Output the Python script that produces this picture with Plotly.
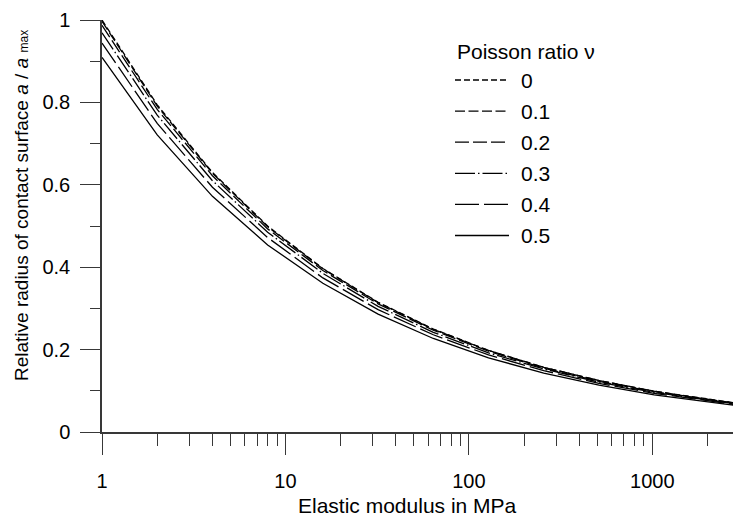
import plotly.graph_objects as go

# Data
modulus_mpa = [1, 2, 4, 8, 16, 32, 64, 128, 256, 512, 1024, 2048, 3000]
poisson_labels = ["0", "0.1", "0.2", "0.3", "0.4", "0.5"]
radius_nu0 = [1.000, 0.794, 0.630, 0.500, 0.397, 0.315, 0.250, 0.198, 0.157, 0.125, 0.099, 0.079, 0.069]
radius_nu01 = [0.997, 0.791, 0.628, 0.498, 0.396, 0.314, 0.249, 0.198, 0.157, 0.125, 0.099, 0.078, 0.069]
radius_nu02 = [0.987, 0.783, 0.622, 0.493, 0.392, 0.311, 0.247, 0.196, 0.155, 0.123, 0.098, 0.078, 0.068]
radius_nu03 = [0.969, 0.769, 0.610, 0.485, 0.385, 0.305, 0.242, 0.192, 0.153, 0.121, 0.096, 0.076, 0.067]
radius_nu04 = [0.944, 0.749, 0.594, 0.472, 0.374, 0.297, 0.236, 0.187, 0.149, 0.118, 0.094, 0.074, 0.065]
radius_nu05 = [0.909, 0.721, 0.572, 0.454, 0.361, 0.286, 0.227, 0.180, 0.143, 0.114, 0.090, 0.072, 0.063]

series = [radius_nu0, radius_nu01, radius_nu02, radius_nu03, radius_nu04, radius_nu05]
dashes = ["6px,3px", "10px,3.5px", "14px,4px", "20px,3px,1.5px,3px", "24px,5px", "solid"]

x_major = [1, 10, 100, 1000]
x_major_text = ["1", "10", "100", "1000"]
x_minor = [2, 3, 4, 5, 6, 7, 8, 9, 20, 30, 40, 50, 60, 70, 80, 90,
           200, 300, 400, 500, 600, 700, 800, 900, 2000]
y_major = [0, 0.2, 0.4, 0.6, 0.8, 1]
y_major_text = ["0", "0.2", "0.4", "0.6", "0.8", "1"]
y_minor = [0.1, 0.3, 0.5, 0.7, 0.9]

FONT = "Liberation Sans, Arial, sans-serif"
FS = 20
FT = 21
AX = "#383838"

fig = go.Figure()
for lab, ys, d in zip(poisson_labels, series, dashes):
    fig.add_trace(go.Scatter(x=modulus_mpa, y=ys, mode="lines", name=lab,
                             line=dict(color="black", width=1.3, dash=d),
                             showlegend=False))

W, H = 733, 517
ml, mr, mt, mb = 102, 0, 20, 85
pw, ph = W - ml - mr, H - mt - mb

def px_x(px):
    return (px - ml) / pw

def px_y(py):
    return (H - mb - py) / ph

# Manual legend (keys drawn as short lines in paper space)
fig.add_annotation(x=px_x(455), y=px_y(52), xref="paper", yref="paper",
                   text="Poisson ratio ν", showarrow=False, xanchor="left",
                   yanchor="middle", font=dict(family=FONT, size=FT, color="black"))
for i, (lab, d) in enumerate(zip(poisson_labels, dashes)):
    yy = 80 + i * 31.1
    fig.add_shape(type="line", xref="paper", yref="paper",
                  x0=px_x(455), x1=px_x(509), y0=px_y(yy), y1=px_y(yy),
                  line=dict(color="black", width=1.3, dash=d))
    fig.add_annotation(x=px_x(519), y=px_y(yy), xref="paper", yref="paper",
                       text=lab, showarrow=False, xanchor="left", yanchor="middle",
                       font=dict(family=FONT, size=FT, color="black"))

# Axis titles
fig.add_annotation(x=px_x(407), y=px_y(505), xref="paper", yref="paper",
                   text="Elastic modulus in MPa", showarrow=False,
                   xanchor="center", yanchor="middle",
                   font=dict(family=FONT, size=FT, color="black"))
fig.add_annotation(x=px_x(21), y=px_y(206), xref="paper", yref="paper",
                   text="Relative radius of contact surface <i>a</i> / <i>a</i> <span style='font-size:12px'>max</span>",
                   showarrow=False, textangle=-90,
                   xanchor="center", yanchor="middle",
                   font=dict(family=FONT, size=19, color="black"))

fig.update_layout(
    width=W, height=H,
    margin=dict(l=ml, r=mr, t=mt, b=mb, autoexpand=False),
    paper_bgcolor="white", plot_bgcolor="white",
    font=dict(family=FONT, size=FS, color="black"),
)
fig.update_xaxes(
    type="log", range=[0, 3.44], automargin=False,
    tickmode="array", tickvals=x_major, ticktext=x_major_text,
    ticks="outside", ticklen=21, tickwidth=1.3, tickcolor=AX,
    ticklabelstandoff=9,
    minor=dict(tickmode="array", tickvals=x_minor, ticks="outside", ticklen=12,
               tickwidth=1.3, tickcolor=AX, showgrid=False),
    showline=True, linecolor=AX, linewidth=1.5,
    showgrid=False, zeroline=False,
)
fig.update_yaxes(
    range=[0, 1], automargin=False,
    tickmode="array", tickvals=y_major, ticktext=y_major_text,
    ticks="outside", ticklen=20, tickwidth=1.3, tickcolor=AX,
    ticklabelstandoff=6,
    minor=dict(tickmode="array", tickvals=y_minor, ticks="outside", ticklen=10,
               tickwidth=1.3, tickcolor=AX, showgrid=False),
    showline=True, linecolor=AX, linewidth=1.5,
    showgrid=False, zeroline=False,
)

fig.write_html("out.html", config={"displayModeBar": False},
               post_script="document.body.style.margin='0';document.body.style.overflow='hidden';")
